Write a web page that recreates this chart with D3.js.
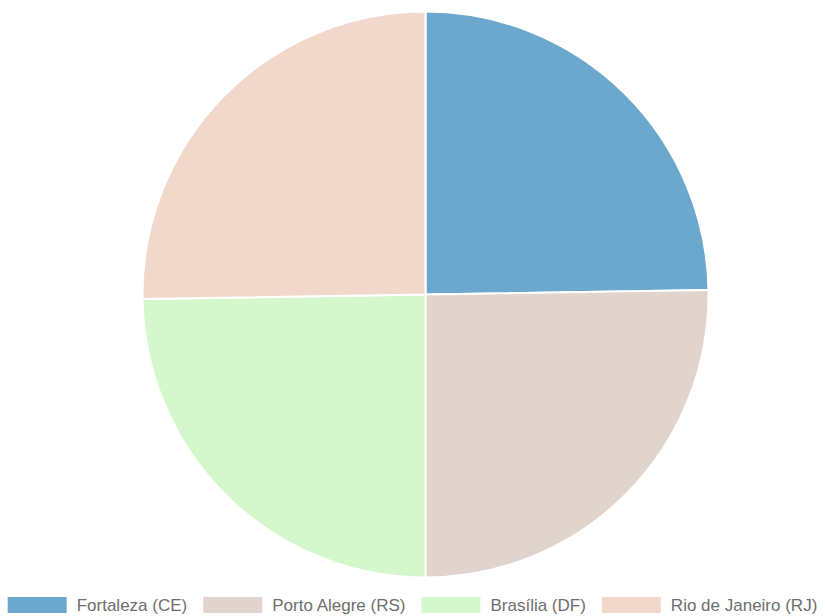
<!DOCTYPE html>
<html><head><meta charset="utf-8">
<script src="https://cdn.jsdelivr.net/npm/d3@7"></script>
<style>body{margin:0;background:#fff}svg{display:block}</style>
</head><body>
<svg id="c" width="825" height="616"></svg>
<script>
const categories = ["Fortaleza (CE)", "Porto Alegre (RS)", "Brasília (DF)", "Rio de Janeiro (RJ)"];
const values = [49, 50, 49, 50];
const colors = ["#6CA8CD", "#E1D4CD", "#D4F8CC", "#F2D8CB"];

const svg = d3.select("#c");
const W = 825, cx = 425.5, cy = 294.5, r = 283;
const data = categories.map((c, i) => ({name: c, value: values[i], color: colors[i]}));
const pie = d3.pie().value(d => d.value).sort(null);
const arc = d3.arc().innerRadius(0).outerRadius(r);
svg.append("g").attr("transform", `translate(${cx},${cy})`)
  .selectAll("path").data(pie(data)).join("path")
  .attr("d", arc).attr("fill", d => d.data.color)
  .attr("stroke", "#fff").attr("stroke-width", 2);

// legend
const fs = 17, boxW = 59, boxH = 16, gapBT = 10, gapItem = 16;
const lg = svg.append("g");
const items = lg.selectAll("g").data(data).join("g");
items.append("rect").attr("width", boxW).attr("height", boxH).attr("fill", d => d.color);
items.append("text").attr("x", boxW + gapBT).attr("y", boxH / 2).attr("dy", "0.36em")
  .attr("font-family", "Liberation Sans, Arial, sans-serif").attr("font-size", fs)
  .attr("fill", "#6e6e6e").text(d => d.name);
let widths = [];
items.each(function() { widths.push(boxW + gapBT + this.querySelector("text").getComputedTextLength()); });
const total = d3.sum(widths) + gapItem * (widths.length - 1);
let x = (W - total) / 2;
items.attr("transform", (d, i) => { const t = `translate(${x},597)`; x += widths[i] + gapItem; return t; });
</script>
</body></html>
